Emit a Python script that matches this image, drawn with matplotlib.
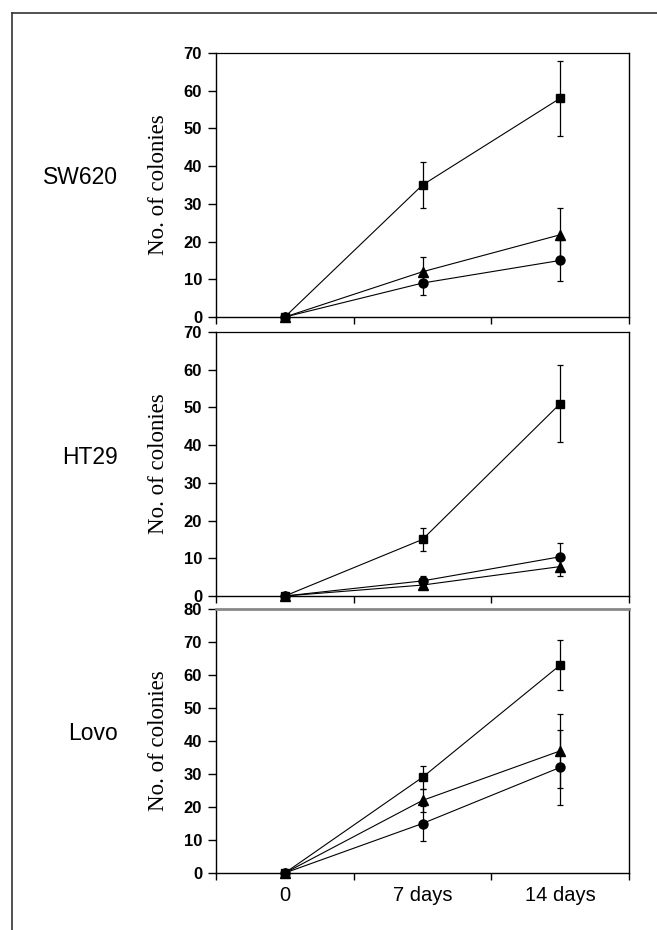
import matplotlib
matplotlib.use("Agg")
import matplotlib.pyplot as plt
from matplotlib.lines import Line2D

categories = ["0", "7 days", "14 days"]
panels = ["SW620", "HT29", "Lovo"]
ymax = [70, 70, 80]

# values per panel: square, triangle, circle
sq_vals = [[0, 35, 58], [0, 15, 51], [0, 29, 63]]
sq_err = [[0, 6, 9.9], [0, 3, 10.2], [0, 3.4, 7.6]]
tri_vals = [[0, 12, 21.8], [0, 2.9, 7.8], [0, 22, 37]]
tri_err = [[0, 3.8, 7.2], [0, 1.1, 2.5], [0, 3.4, 11.2]]
cir_vals = [[0, 9, 15], [0, 4, 10.4], [0, 15, 32]]
cir_err = [[0, 3.2, 5.5], [0, 1.3, 3.7], [0, 5.2, 11.4]]

W, H = 657, 930
fig = plt.figure(figsize=(W / 100, H / 100), dpi=100)

left = 216 / W
width = (629 - 216) / W
tops = [53, 332, 609]
bottoms = [317, 596, 873]

xpos = [0.5, 1.5, 2.5]

for i in range(3):
    ax = fig.add_axes([left, 1 - bottoms[i] / H, width, (bottoms[i] - tops[i]) / H])
    ax.set_xlim(0, 3)
    ax.set_ylim(0, ymax[i])
    ax.set_yticks(range(0, ymax[i] + 1, 10))
    ax.set_xticks([0, 1, 2, 3])
    ax.set_xticklabels([])
    ax.set_xticks(xpos, minor=True)
    if i == 2:
        ax.set_xticklabels(categories, minor=True, fontsize=14.5,
                           family="Liberation Sans")
    else:
        ax.set_xticklabels([], minor=True)
    ax.tick_params(axis="x", which="minor", length=0, pad=9)
    ax.tick_params(axis="x", which="major", length=5, width=1, direction="out")
    ax.tick_params(axis="y", length=6, width=1, direction="out", pad=4)
    for lab in ax.get_yticklabels():
        lab.set_fontfamily("Liberation Sans")
        lab.set_fontweight("bold")
        lab.set_fontsize(12)
    for s in ax.spines.values():
        s.set_linewidth(1.0)
    ax.spines["top"].set_linewidth(0.9)
    if i == 2:
        ax.spines["top"].set_color("#888888")
        ax.spines["top"].set_linewidth(2.0)

    kw = dict(color="black", lw=0.8, elinewidth=0.9, capsize=2.5, capthick=0.9,
              clip_on=False)
    ax.errorbar(xpos, cir_vals[i], yerr=cir_err[i], marker="o", ms=6.5, **kw)
    ax.errorbar(xpos, tri_vals[i], yerr=tri_err[i], marker="^", ms=6.5, **kw)
    ax.errorbar(xpos, sq_vals[i], yerr=sq_err[i], marker="s", ms=6, **kw)

    cy = 1 - (tops[i] + bottoms[i]) / 2 / H
    fig.text(159 / W, cy, "No. of colonies", rotation=90, ha="center", va="center",
             fontsize=16.5, family="Liberation Serif")
    fig.text(118 / W, cy + 7 / H, panels[i], ha="right", va="center",
             fontsize=16.5, family="Liberation Sans")

# outer frame (top and left visible)
fig.add_artist(Line2D([12 / W, 12 / W], [0, 1 - 13 / H], transform=fig.transFigure,
                      color="#333333", lw=1.2))
fig.add_artist(Line2D([12 / W, 1], [1 - 13 / H, 1 - 13 / H], transform=fig.transFigure,
                      color="#333333", lw=1.2))

fig.savefig("out.png", dpi=100)
